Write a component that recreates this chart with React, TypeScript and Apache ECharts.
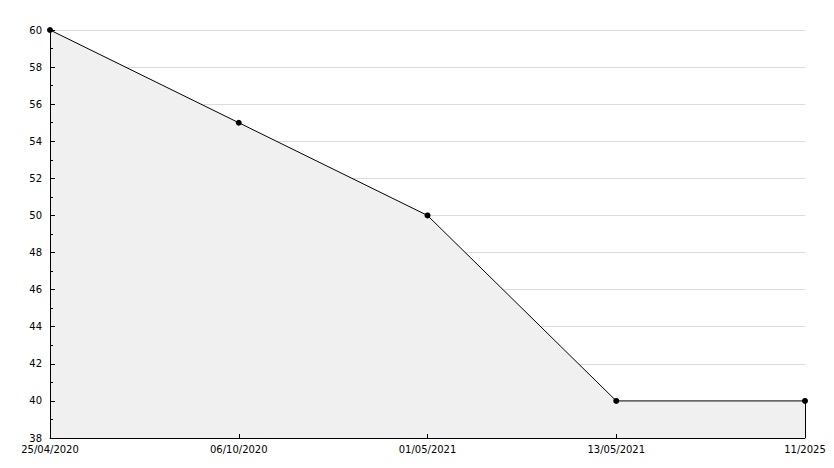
import React, { useEffect, useRef } from "react";
import * as echarts from "echarts";

const categories = ["25/04/2020", "06/10/2020", "01/05/2021", "13/05/2021", "11/2025"];
const values = [60, 55, 50, 40, 40];
const yMin = 38;
const yMax = 60;
const yStep = 2;

export default function App() {
  const ref = useRef<HTMLDivElement>(null);
  useEffect(() => {
    if (!ref.current) return;
    const chart = echarts.init(ref.current, undefined, { renderer: "svg" });
    const font = { fontFamily: "DejaVu Sans", fontSize: 10, color: "#000" };
    const last = categories.length - 1;
    chart.setOption({
      animation: false,
      backgroundColor: "#fff",
      grid: { left: 50, right: 29, top: 30, bottom: 30, containLabel: false },
      xAxis: {
        type: "category",
        data: categories,
        boundaryGap: false,
        z: 5,
        axisLine: { show: true, lineStyle: { color: "#000", width: 1 } },
        axisTick: { show: true, inside: true, length: 4, lineStyle: { color: "#000" }, alignWithLabel: true },
        axisLabel: { ...font, margin: 6, showMinLabel: true, showMaxLabel: true, interval: 0 },
        splitLine: { show: false },
      },
      yAxis: [
        {
          type: "value",
          min: yMin,
          max: yMax,
          interval: yStep,
          z: 0,
          axisLine: { show: false },
          axisTick: { show: false },
          axisLabel: { show: false },
          splitLine: { show: true, lineStyle: { color: "#dcdcdc", width: 1 } },
        },
        {
          type: "value",
          position: "left",
          min: yMin,
          max: yMax,
          interval: yStep,
          z: 5,
          axisLine: { show: true, lineStyle: { color: "#000", width: 1 } },
          axisTick: { show: true, inside: true, length: 5, lineStyle: { color: "#000" } },
          minorTick: { show: true, splitNumber: 2, length: 3, lineStyle: { color: "#000" } },
          axisLabel: { ...font, margin: 8 },
          splitLine: { show: false },
        },
      ],
      series: [
        {
          type: "line",
          yAxisIndex: 0,
          data: values,
          symbol: "circle",
          symbolSize: 6,
          z: 3,
          itemStyle: { color: "#000" },
          lineStyle: { color: "#000", width: 1 },
          areaStyle: { color: "#f0f0f0", opacity: 1 },
          markLine: {
            silent: true,
            symbol: "none",
            label: { show: false },
            lineStyle: { color: "#000", width: 1, type: "solid" },
            data: [
              [
                { coord: [categories[last], values[last]] },
                { coord: [categories[last], yMin] },
              ],
            ],
          },
        },
      ],
    });
    return () => chart.dispose();
  }, []);
  return <div ref={ref} style={{ width: 834, height: 468, position: "absolute", left: 0, top: 0 }} />;
}
